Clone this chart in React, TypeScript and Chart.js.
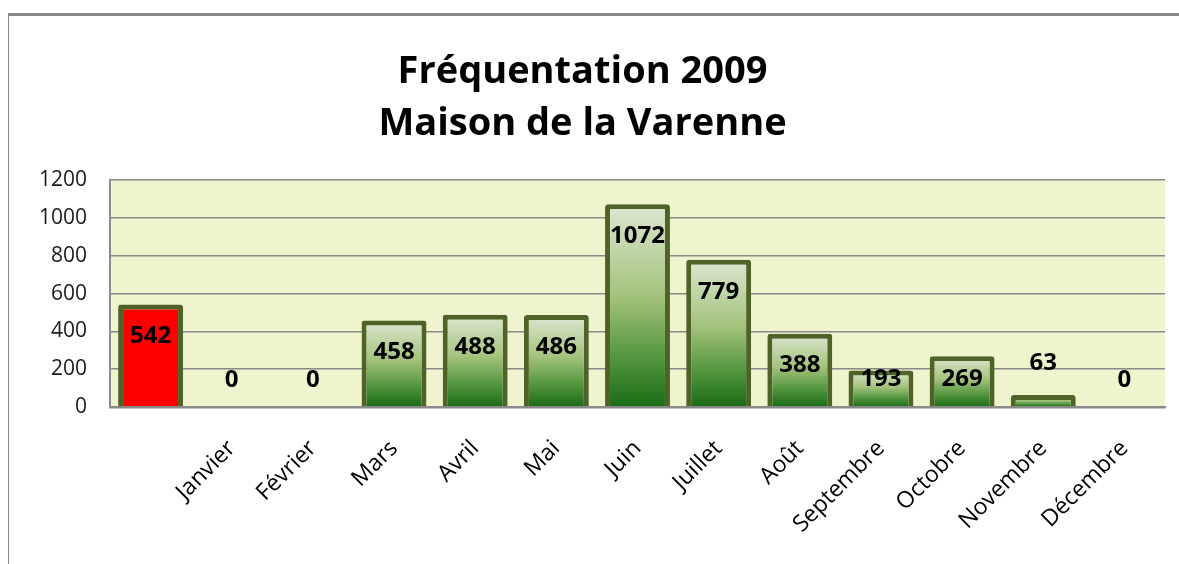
import React, { useEffect, useRef } from "react";
import { Chart, registerables } from "chart.js";

Chart.register(...registerables);

const categories = ["", "Janvier", "Février", "Mars", "Avril", "Mai", "Juin", "Juillet", "Août", "Septembre", "Octobre", "Novembre", "Décembre"];
const visits = [542, 0, 0, 458, 488, 486, 1072, 779, 388, 193, 269, 63, 0];
const titleLines = ["Fréquentation 2009", "Maison de la Varenne"];
const yMin = 0;
const yMax = 1200;
const yStep = 200;

const FONT = "'Open Sans', 'DejaVu Sans', sans-serif";
const BORDER_OLIVE = "#4F6228";
const PLOT_BG = "#EFF4CE";
const GRID_GRAY = "#8A8A8A";

const frame = {
  id: "frame",
  beforeDraw(chart: any) {
    const { ctx, width, height, chartArea } = chart;
    ctx.save();
    ctx.fillStyle = "#FFFFFF";
    ctx.fillRect(0, 0, width, height);
    ctx.fillStyle = "#878787";
    ctx.fillRect(8, 13, width - 8, 3);
    ctx.fillRect(8, 13, 1, height - 13);
    ctx.fillStyle = PLOT_BG;
    ctx.fillRect(chartArea.left, chartArea.top, chartArea.right - chartArea.left, chartArea.bottom - chartArea.top);
    ctx.restore();
  },
};

const valueLabels = {
  id: "valueLabels",
  afterDatasetsDraw(chart: any) {
    const { ctx } = chart;
    const meta = chart.getDatasetMeta(0);
    const data = chart.data.datasets[0].data as number[];
    ctx.save();
    ctx.font = `bold 24px ${FONT}`;
    ctx.fillStyle = "#000000";
    ctx.textAlign = "center";
    ctx.textBaseline = "middle";
    meta.data.forEach((bar: any, i: number) => {
      const v = data[i];
      const top = bar.y;
      const base = bar.base;
      const h = base - top;
      let y: number;
      if (h >= 62) y = top + 32;
      else if (h >= 25 || v === 0) y = base - 27;
      else y = top - 32;
      ctx.fillText(String(v), bar.x, y);
    });
    ctx.restore();
  },
};

function barFill(context: any) {
  const i = context.dataIndex;
  if (i === 0) return "#FF0000";
  const chart = context.chart;
  const yScale = chart.scales?.y;
  const v = context.raw as number;
  if (!yScale || !chart.chartArea) return "#7FAF5A";
  const top = yScale.getPixelForValue(v);
  const base = yScale.getPixelForValue(0);
  if (base - top < 1) return "#7FAF5A";
  const g = chart.ctx.createLinearGradient(0, top, 0, base);
  g.addColorStop(0, "#DDE7D3");
  g.addColorStop(0.45, "#A4C37C");
  g.addColorStop(0.75, "#559640");
  g.addColorStop(1, "#1A6B16");
  return g;
}

export default function App() {
  const ref = useRef<HTMLCanvasElement | null>(null);
  useEffect(() => {
    document.body.style.margin = "0";
    const canvas = ref.current;
    if (!canvas) return;
    const chart = new Chart(canvas, {
      type: "bar",
      data: {
        labels: categories,
        datasets: [
          {
            data: visits,
            backgroundColor: barFill,
            borderColor: BORDER_OLIVE,
            borderWidth: 5,
            borderRadius: 3,
            borderSkipped: "start",
            categoryPercentage: 1,
            barPercentage: 0.8,
          },
        ],
      },
      options: {
        responsive: false,
        animation: false,
        layout: { padding: { left: 0, right: 14, top: 0, bottom: 0 } },
        plugins: {
          legend: { display: false },
          tooltip: { enabled: false },
          title: {
            display: true,
            text: titleLines,
            color: "#000000",
            font: { family: FONT, size: 38, weight: "bold", lineHeight: 1.37 },
            padding: { top: 46, bottom: 30 },
          },
        },
        scales: {
          x: {
            grid: { display: false, drawTicks: false },
            border: { display: true, color: GRID_GRAY, width: 2.5 },
            ticks: {
              autoSkip: false,
              maxRotation: 45,
              minRotation: 45,
              padding: 28,
              color: "#000000",
              font: { family: FONT, size: 23 },
            },
            afterFit(scale: any) {
              scale.height = 157;
            },
          },
          y: {
            min: yMin,
            max: yMax,
            grid: { color: GRID_GRAY, lineWidth: 1.5, drawTicks: false },
            border: { display: true, color: GRID_GRAY, width: 2 },
            ticks: {
              stepSize: yStep,
              padding: 23,
              color: "#1A1A1A",
              font: { family: FONT, size: 21 },
              callback: (value: any) => String(value),
            },
            afterFit(scale: any) {
              scale.width = 110;
            },
          },
        },
      },
      plugins: [frame, valueLabels],
    });
    return () => chart.destroy();
  }, []);
  return (
    <div style={{ position: "fixed", left: 0, top: 0, width: 1179, height: 564, background: "#fff" }}>
      <canvas ref={ref} width={1179} height={564} style={{ display: "block", width: 1179, height: 564 }} />
    </div>
  );
}
